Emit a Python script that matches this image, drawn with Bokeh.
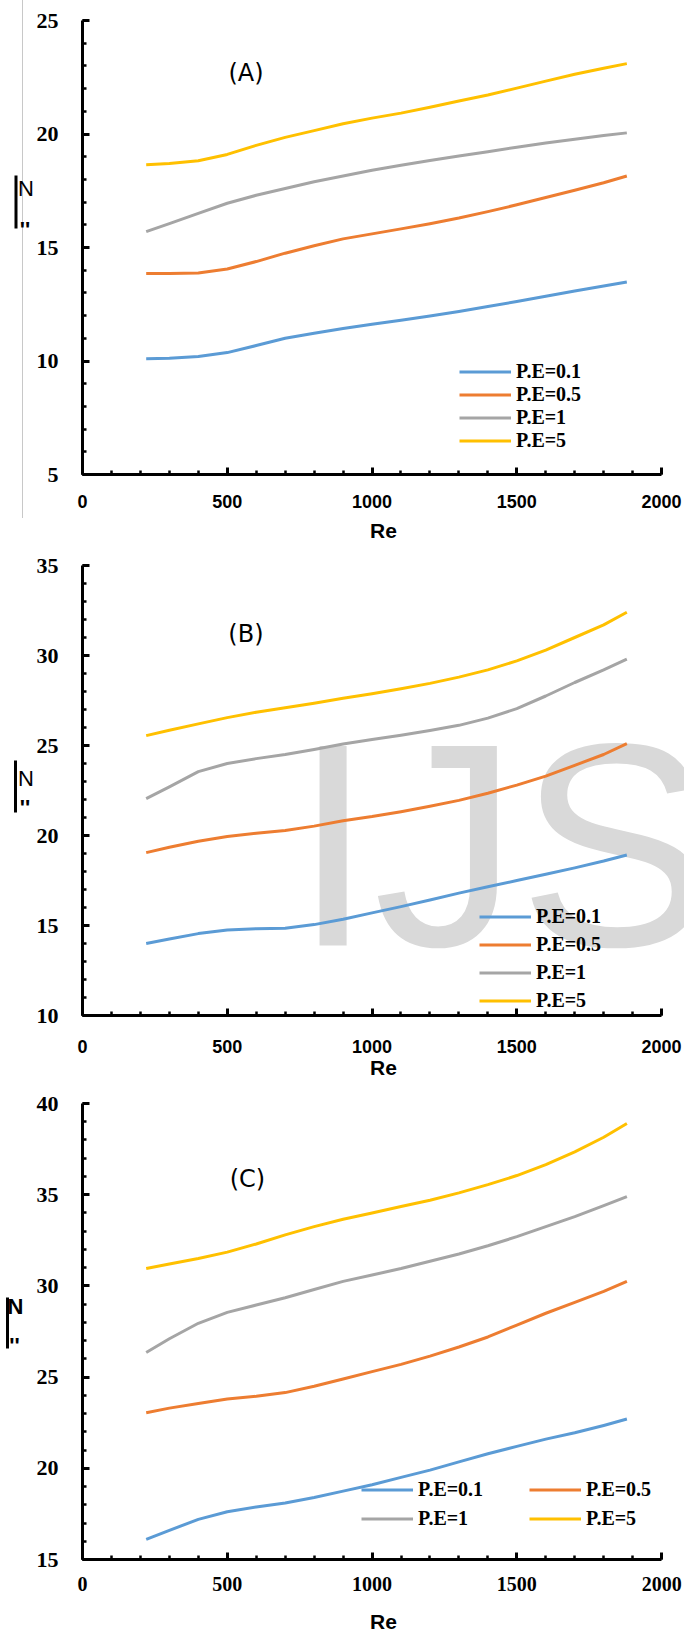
from bokeh.plotting import figure
from bokeh.layouts import column, row
from bokeh.models import (Range1d, SingleIntervalTicker, Legend, LegendItem,
                          Label, BoxAnnotation)
from bokeh.embed import file_html
from bokeh.resources import INLINE

# ---------------- data ----------------
re_values = [220, 300, 400, 500, 600, 700, 800, 900, 1000, 1100, 1200, 1300,
             1400, 1500, 1600, 1700, 1800, 1880]
legend_labels = ["P.E=0.1", "P.E=0.5", "P.E=1", "P.E=5"]
line_colors = ["#5B9BD5", "#ED7D31", "#A5A5A5", "#FFC000"]
panel_titles = ["(A)", "(B)", "(C)"]
x_axis_title = "Re"

a_pe01 = [10.1, 10.12, 10.2, 10.37, 10.68, 11.0, 11.22, 11.43, 11.62, 11.8, 11.98, 12.18,
          12.4, 12.62, 12.85, 13.08, 13.3, 13.48]
a_pe05 = [13.85, 13.85, 13.88, 14.05, 14.38, 14.75, 15.08, 15.38, 15.6, 15.82, 16.05, 16.3,
          16.58, 16.88, 17.2, 17.52, 17.85, 18.15]
a_pe1 = [15.7, 16.05, 16.5, 16.95, 17.3, 17.6, 17.9, 18.15, 18.4, 18.62, 18.83, 19.03,
         19.22, 19.42, 19.6, 19.77, 19.93, 20.05]
a_pe5 = [18.65, 18.7, 18.82, 19.1, 19.5, 19.85, 20.15, 20.45, 20.7, 20.92, 21.18, 21.45,
         21.72, 22.02, 22.33, 22.63, 22.9, 23.1]

b_pe01 = [14.0, 14.25, 14.55, 14.75, 14.82, 14.85, 15.05, 15.35, 15.7, 16.05, 16.42, 16.8,
          17.15, 17.5, 17.85, 18.2, 18.58, 18.92]
b_pe05 = [19.05, 19.35, 19.68, 19.95, 20.12, 20.28, 20.52, 20.82, 21.05, 21.32, 21.62, 21.95,
          22.35, 22.8, 23.3, 23.9, 24.5, 25.1]
b_pe1 = [22.05, 22.7, 23.55, 24.0, 24.27, 24.5, 24.78, 25.08, 25.33, 25.57, 25.83, 26.12,
         26.52, 27.05, 27.75, 28.5, 29.2, 29.8]
b_pe5 = [25.55, 25.85, 26.2, 26.55, 26.85, 27.1, 27.35, 27.62, 27.88, 28.15, 28.45, 28.8,
         29.2, 29.7, 30.3, 31.0, 31.7, 32.4]

c_pe01 = [16.1, 16.6, 17.2, 17.62, 17.88, 18.1, 18.4, 18.75, 19.1, 19.5, 19.9, 20.35,
          20.8, 21.2, 21.6, 21.95, 22.35, 22.7]
c_pe05 = [23.05, 23.3, 23.55, 23.8, 23.95, 24.15, 24.5, 24.9, 25.3, 25.7, 26.15, 26.65,
          27.2, 27.85, 28.5, 29.1, 29.7, 30.25]
c_pe1 = [26.35, 27.1, 27.95, 28.55, 28.95, 29.35, 29.8, 30.25, 30.6, 30.95, 31.35, 31.75,
         32.2, 32.7, 33.25, 33.8, 34.4, 34.9]
c_pe5 = [30.95, 31.2, 31.5, 31.85, 32.3, 32.8, 33.25, 33.65, 34.0, 34.35, 34.7, 35.1,
         35.55, 36.05, 36.65, 37.35, 38.15, 38.9]

X_START, X_END = 0, 2000
SIDE_W = 33
PAGE_W = 684

# ---------------- layout config (page pixels) ----------------
panels = [
    dict(series=[a_pe01, a_pe05, a_pe1, a_pe5], ymin=5, ymax=25, page_top=0,
         frame_left=80, fw=581, top=20, fh=454, bottom=71,
         xfont="Liberation Sans", xsize="18px", xstand=20, lstand=8,
         legend=dict(loc=(377, 22), ncols=1, spacing=0),
         title_at=(244, 72), bar=(15.5, 175, 228), n_at=(25.5, 188), dots_at=(24.5, 229),
         n_bold=False, gray_line=True),
    dict(series=[b_pe01, b_pe05, b_pe1, b_pe5], ymin=10, ymax=35, page_top=545,
         frame_left=80, fw=581, top=20, fh=450, bottom=70,
         xfont="Liberation Sans", xsize="18px", xstand=24, lstand=0,
         legend=dict(loc=(397, 3), ncols=1, spacing=5),
         title_at=(244, 633), bar=(15, 760, 812), n_at=(25.5, 778), dots_at=(24.5, 807),
         n_bold=False, gray_line=False, watermark=True),
    dict(series=[c_pe01, c_pe05, c_pe1, c_pe5], ymin=15, ymax=40, page_top=1085,
         frame_left=78, fw=583, top=18, fh=456, bottom=77,
         xfont="Liberation Serif", xsize="20px", xstand=17, lstand=16,
         legend=dict(loc=(279, 29), ncols=2, spacing=6),
         title_at=(244, 1178), bar=(7, 1297, 1348), n_at=(15, 1306), dots_at=(14, 1345),
         n_bold=True, gray_line=False),
]


def to_data(cfg, px, py):
    fl = cfg["frame_left"]
    ft = cfg["page_top"] + cfg["top"]
    dx = X_START + (px - fl) / cfg["fw"] * (X_END - X_START)
    dy = cfg["ymax"] - (py - ft) / cfg["fh"] * (cfg["ymax"] - cfg["ymin"])
    return dx, dy


def build_side(cfg, h):
    top = cfg["top"]
    pt = cfg["page_top"]
    extra = {}
    if cfg["gray_line"]:
        # thin light-grey rule running down the left margin of the first panel
        extra["styles"] = {
            "background-image": "linear-gradient(to right, transparent 22.5px, #C8C8C8 22.5px, "
                                "#C8C8C8 23.5px, transparent 23.5px)",
            "background-size": "100%% %dpx" % (518 - pt),
            "background-repeat": "no-repeat",
        }
    # frame of this narrow figure is aligned with the main plot's frame;
    # its y range is in pixels measured from the panel's top edge
    s = figure(width=SIDE_W, height=h, output_backend="svg", toolbar_location=None,
               x_range=Range1d(0, SIDE_W), y_range=Range1d(top + cfg["fh"], top),
               x_axis_type=None, y_axis_type=None,
               min_border_left=0, min_border_right=0,
               min_border_top=top, min_border_bottom=cfg["bottom"], **extra)
    s.outline_line_color = None
    if cfg["gray_line"]:
        s.background_fill_alpha = 0
        s.border_fill_alpha = 0
    else:
        s.background_fill_color = "white"
        s.border_fill_color = "white"
    bx, by0, by1 = cfg["bar"]
    s.add_layout(BoxAnnotation(left=bx - 1.5, right=bx + 1.5, top=by0 - pt, bottom=by1 - pt,
                               fill_color="black", fill_alpha=1, line_color=None))
    nx, ny = cfg["n_at"]
    s.add_layout(Label(x=nx, y=ny - pt, text="N", text_font="Liberation Sans",
                       text_font_style="bold" if cfg["n_bold"] else "normal",
                       text_font_size="22px", text_color="black",
                       text_align="center", text_baseline="middle"))
    dx, dy = cfg["dots_at"]
    s.add_layout(Label(x=dx, y=dy - pt, text="''", text_font="Liberation Sans",
                       text_font_style="bold", text_font_size="22px", text_color="black",
                       text_align="center", text_baseline="middle"))
    return s


def build_main(cfg, title, h):
    left_border = cfg["frame_left"] - SIDE_W
    frame_w_ext = PAGE_W - cfg["frame_left"]          # frame runs to the page edge
    x_view_end = X_START + frame_w_ext / cfg["fw"] * (X_END - X_START)
    p = figure(width=PAGE_W - SIDE_W, height=h, output_backend="svg", toolbar_location=None,
               x_range=Range1d(X_START, x_view_end),
               y_range=Range1d(cfg["ymin"], cfg["ymax"]),
               min_border_left=left_border, min_border_right=0,
               min_border_top=cfg["top"], min_border_bottom=cfg["bottom"])
    p.outline_line_color = None
    p.xgrid.visible = False
    p.ygrid.visible = False
    p.background_fill_color = "white"
    p.border_fill_color = "white"

    p.xaxis.ticker = SingleIntervalTicker(interval=500, num_minor_ticks=5)
    p.yaxis.ticker = SingleIntervalTicker(interval=5, num_minor_ticks=5)
    p.xaxis.bounds = (X_START, X_END)
    for ax in (p.xaxis[0], p.yaxis[0]):
        ax.axis_line_width = 3
        ax.axis_line_color = "black"
        ax.major_tick_line_width = 3
        ax.minor_tick_line_width = 2.5
        ax.major_tick_line_color = "black"
        ax.minor_tick_line_color = "black"
        ax.major_tick_in = 7
        ax.major_tick_out = 0
        ax.minor_tick_in = 4
        ax.minor_tick_out = 0
        ax.major_label_text_color = "black"
        ax.major_label_text_font_style = "bold"

    p.yaxis.major_label_text_font = "Liberation Serif"
    p.yaxis.major_label_text_font_size = "22px"
    p.yaxis.major_label_standoff = 24

    p.xaxis.major_label_text_font = cfg["xfont"]
    p.xaxis.major_label_text_font_size = cfg["xsize"]
    p.xaxis.major_label_standoff = cfg["xstand"]
    p.xaxis.axis_label = x_axis_title
    p.xaxis.axis_label_text_font = "Liberation Sans"
    p.xaxis.axis_label_text_font_style = "bold"
    p.xaxis.axis_label_text_font_size = "21px"
    p.xaxis.axis_label_text_color = "black"
    p.xaxis.axis_label_standoff = cfg["lstand"]

    if cfg.get("watermark"):
        wx, wy = to_data(cfg, 291, 844)
        p.add_layout(Label(x=wx, y=wy, text="IJS", text_font="Liberation Sans",
                           text_font_size="290px", text_color="#D9D9D9",
                           text_align="left", text_baseline="middle",
                           level="underlay"))

    items = []
    for vals, name, col in zip(cfg["series"], legend_labels, line_colors):
        r = p.line(re_values, vals, line_color=col, line_width=3, line_join="round")
        items.append(LegendItem(label=name, renderers=[r]))

    lg = cfg["legend"]
    legend = Legend(items=items, location=lg["loc"], ncols=lg["ncols"],
                    orientation="horizontal" if lg["ncols"] > 1 else "vertical",
                    border_line_color=None, background_fill_alpha=0,
                    padding=0, margin=0, spacing=lg["spacing"],
                    glyph_width=52, glyph_height=19, label_height=19,
                    label_width=105 if lg["ncols"] > 1 else 20,
                    label_standoff=5,
                    label_text_font="Liberation Serif", label_text_font_style="bold",
                    label_text_font_size="20px", label_text_line_height=1.05,
                    label_text_color="black")
    p.add_layout(legend)

    tx, ty = to_data(cfg, *cfg["title_at"])
    p.add_layout(Label(x=tx, y=ty, text=title, text_font="DejaVu Sans",
                       text_font_size="24px", text_color="black",
                       text_align="center", text_baseline="middle"))
    return p


rows = []
for cfg, t in zip(panels, panel_titles):
    h = cfg["top"] + cfg["fh"] + cfg["bottom"]
    rows.append(row(build_side(cfg, h), build_main(cfg, t, h), spacing=0))

layout = column(*rows, spacing=0)

open("out.html", "w").write(file_html(layout, INLINE))
